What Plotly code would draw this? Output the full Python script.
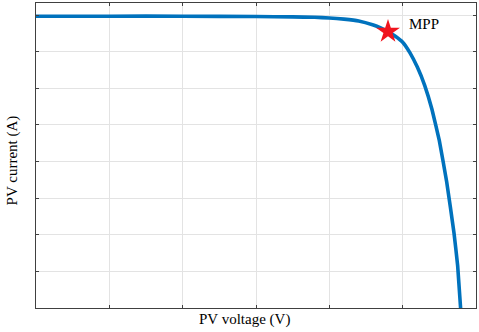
import plotly.graph_objects as go

voltage = [0.0, 1.0, 2.0, 3.0, 3.5, 3.8, 4.0, 4.2, 4.4, 4.6, 4.7, 4.8, 4.9, 5.0, 5.1, 5.2, 5.3, 5.4, 5.5, 5.6, 5.7, 5.75, 5.79]
current = [7.97, 7.97, 7.97, 7.96, 7.95, 7.94, 7.92, 7.89, 7.84, 7.73, 7.65, 7.55, 7.42, 7.26, 6.97, 6.58, 6.08, 5.42, 4.57, 3.45, 2.05, 1.15, 0.0]
mpp_v = [4.8]
mpp_i = [7.55]
mpp_label = "MPP"
x_title = "PV voltage (V)"
y_title = "PV current (A)"

FONT = "Liberation Serif"

fig = go.Figure()
fig.add_trace(go.Scatter(x=voltage, y=current, mode="lines",
                         line=dict(color="#0072BD", width=3.6, shape="spline", smoothing=0.3),
                         showlegend=False, hoverinfo="skip"))
fig.add_trace(go.Scatter(x=mpp_v, y=mpp_i, mode="markers",
                         marker=dict(symbol="star", size=18, color="#F0141E", line=dict(width=0)),
                         showlegend=False, hoverinfo="skip"))
fig.add_annotation(x=mpp_v[0] + 0.26, y=mpp_i[0] + 0.22, text=mpp_label, showarrow=False,
                   xanchor="left", yanchor="middle",
                   font=dict(family=FONT, size=15, color="black"))
fig.add_annotation(xref="paper", yref="paper", x=0.473, y=-0.039, text=x_title,
                   showarrow=False, xanchor="center", yanchor="middle",
                   font=dict(family=FONT, size=15, color="black"))
fig.add_annotation(xref="paper", yref="paper", x=-0.0545, y=0.484, text=y_title,
                   showarrow=False, xanchor="center", yanchor="middle", textangle=-90,
                   font=dict(family=FONT, size=15, color="black"))

axis_common = dict(showticklabels=False, ticks="inside", ticklen=3, tickcolor="#404040",
                   showline=True, linecolor="#404040", linewidth=1, mirror="ticks",
                   showgrid=True, gridcolor="#E3E3E3", gridwidth=1, zeroline=False, dtick=1,
                   automargin=False)

fig.update_layout(
    width=479, height=332,
    margin=dict(l=36, r=3, t=3, b=24),
    paper_bgcolor="white", plot_bgcolor="white",
    font=dict(family=FONT, size=15, color="black"),
    xaxis=dict(range=[0, 6], tick0=0, **axis_common),
    yaxis=dict(range=[0, 8.33], tick0=0, **axis_common),
)

fig.write_html("out.html", config={"displayModeBar": False},
               post_script="document.body.style.margin='0px';")
